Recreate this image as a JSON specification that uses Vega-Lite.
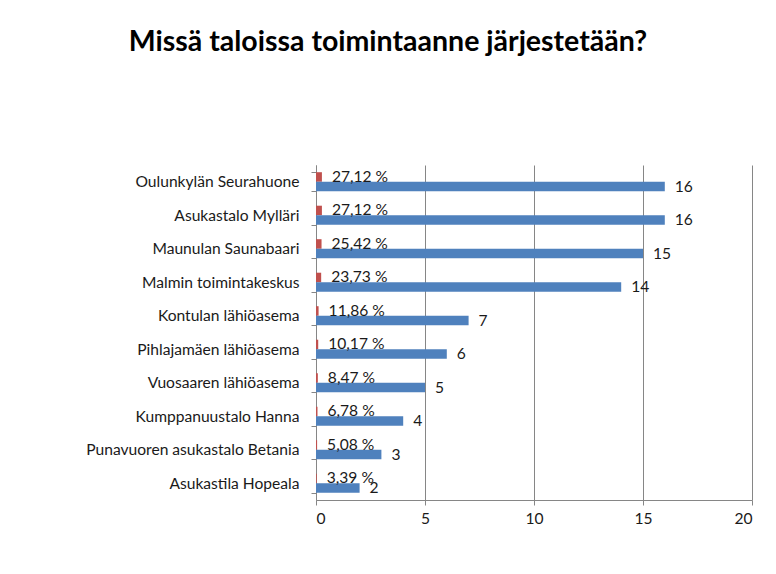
{
  "$schema": "https://vega.github.io/schema/vega-lite/v6.json",
  "autosize": "none",
  "width": 436,
  "height": 335,
  "padding": {"left": 316, "top": 165, "right": 24, "bottom": 74},
  "background": "white",
  "title": {
    "text": "Missä taloissa toimintaanne järjestetään?",
    "font": "Lato",
    "fontSize": 28.5,
    "fontWeight": "bold",
    "color": "#000000",
    "anchor": "middle",
    "dx": -146,
    "offset": 102
  },
  "config": {
    "view": {"stroke": null},
    "font": "Lato"
  },
  "data": {
    "values": [
      {"talo": "Oulunkylän Seurahuone", "sarja": "osuus", "arvo": 0.2712, "teksti": "27,12 %"},
      {"talo": "Oulunkylän Seurahuone", "sarja": "lukumäärä", "arvo": 16, "teksti": "16"},
      {"talo": "Asukastalo Mylläri", "sarja": "osuus", "arvo": 0.2712, "teksti": "27,12 %"},
      {"talo": "Asukastalo Mylläri", "sarja": "lukumäärä", "arvo": 16, "teksti": "16"},
      {"talo": "Maunulan Saunabaari", "sarja": "osuus", "arvo": 0.2542, "teksti": "25,42 %"},
      {"talo": "Maunulan Saunabaari", "sarja": "lukumäärä", "arvo": 15, "teksti": "15"},
      {"talo": "Malmin toimintakeskus", "sarja": "osuus", "arvo": 0.2373, "teksti": "23,73 %"},
      {"talo": "Malmin toimintakeskus", "sarja": "lukumäärä", "arvo": 14, "teksti": "14"},
      {"talo": "Kontulan lähiöasema", "sarja": "osuus", "arvo": 0.1186, "teksti": "11,86 %"},
      {"talo": "Kontulan lähiöasema", "sarja": "lukumäärä", "arvo": 7, "teksti": "7"},
      {"talo": "Pihlajamäen lähiöasema", "sarja": "osuus", "arvo": 0.1017, "teksti": "10,17 %"},
      {"talo": "Pihlajamäen lähiöasema", "sarja": "lukumäärä", "arvo": 6, "teksti": "6"},
      {"talo": "Vuosaaren lähiöasema", "sarja": "osuus", "arvo": 0.0847, "teksti": "8,47 %"},
      {"talo": "Vuosaaren lähiöasema", "sarja": "lukumäärä", "arvo": 5, "teksti": "5"},
      {"talo": "Kumppanuustalo Hanna", "sarja": "osuus", "arvo": 0.0678, "teksti": "6,78 %"},
      {"talo": "Kumppanuustalo Hanna", "sarja": "lukumäärä", "arvo": 4, "teksti": "4"},
      {"talo": "Punavuoren asukastalo Betania", "sarja": "osuus", "arvo": 0.0508, "teksti": "5,08 %"},
      {"talo": "Punavuoren asukastalo Betania", "sarja": "lukumäärä", "arvo": 3, "teksti": "3"},
      {"talo": "Asukastila Hopeala", "sarja": "osuus", "arvo": 0.0339, "teksti": "3,39 %"},
      {"talo": "Asukastila Hopeala", "sarja": "lukumäärä", "arvo": 2, "teksti": "2"}
    ]
  },
  "encoding": {
    "y": {
      "field": "talo",
      "type": "nominal",
      "sort": null,
      "title": null,
      "scale": {"paddingInner": 0.43, "paddingOuter": 0.215},
      "axis": {
        "tickBand": "extent",
        "grid": false,
        "domainColor": "#868686",
        "tickColor": "#868686",
        "tickSize": 5,
        "labelPadding": 12,
        "labelFontSize": 15.6,
        "labelLimit": 320,
        "labelColor": "#1a1a1a",
        "labelFont": "Lato"
      }
    },
    "yOffset": {
      "field": "sarja",
      "type": "nominal",
      "sort": ["osuus", "lukumäärä"],
      "scale": {"domain": ["osuus", "lukumäärä"], "paddingInner": 0, "paddingOuter": 0}
    },
    "x": {
      "field": "arvo",
      "type": "quantitative",
      "title": null,
      "scale": {"domain": [0, 20], "nice": false},
      "axis": {
        "values": [0, 5, 10, 15, 20],
        "grid": true,
        "gridColor": "#868686",
        "gridWidth": 1,
        "domainColor": "#868686",
        "tickColor": "#868686",
        "tickSize": 5,
        "labelPadding": 6,
        "labelFontSize": 15.6,
        "labelColor": "#1a1a1a",
        "labelFont": "Lato"
      }
    }
  },
  "layer": [
    {
      "mark": {"type": "bar"},
      "encoding": {
        "color": {
          "field": "sarja",
          "type": "nominal",
          "scale": {"domain": ["osuus", "lukumäärä"], "range": ["#C0504D", "#4F81BD"]},
          "legend": null
        }
      }
    },
    {
      "mark": {"type": "text", "align": "left", "baseline": "middle", "dx": 10, "fontSize": 15.6, "font": "Lato", "color": "#1a1a1a"},
      "encoding": {
        "text": {"field": "teksti", "type": "nominal"}
      }
    }
  ]
}
